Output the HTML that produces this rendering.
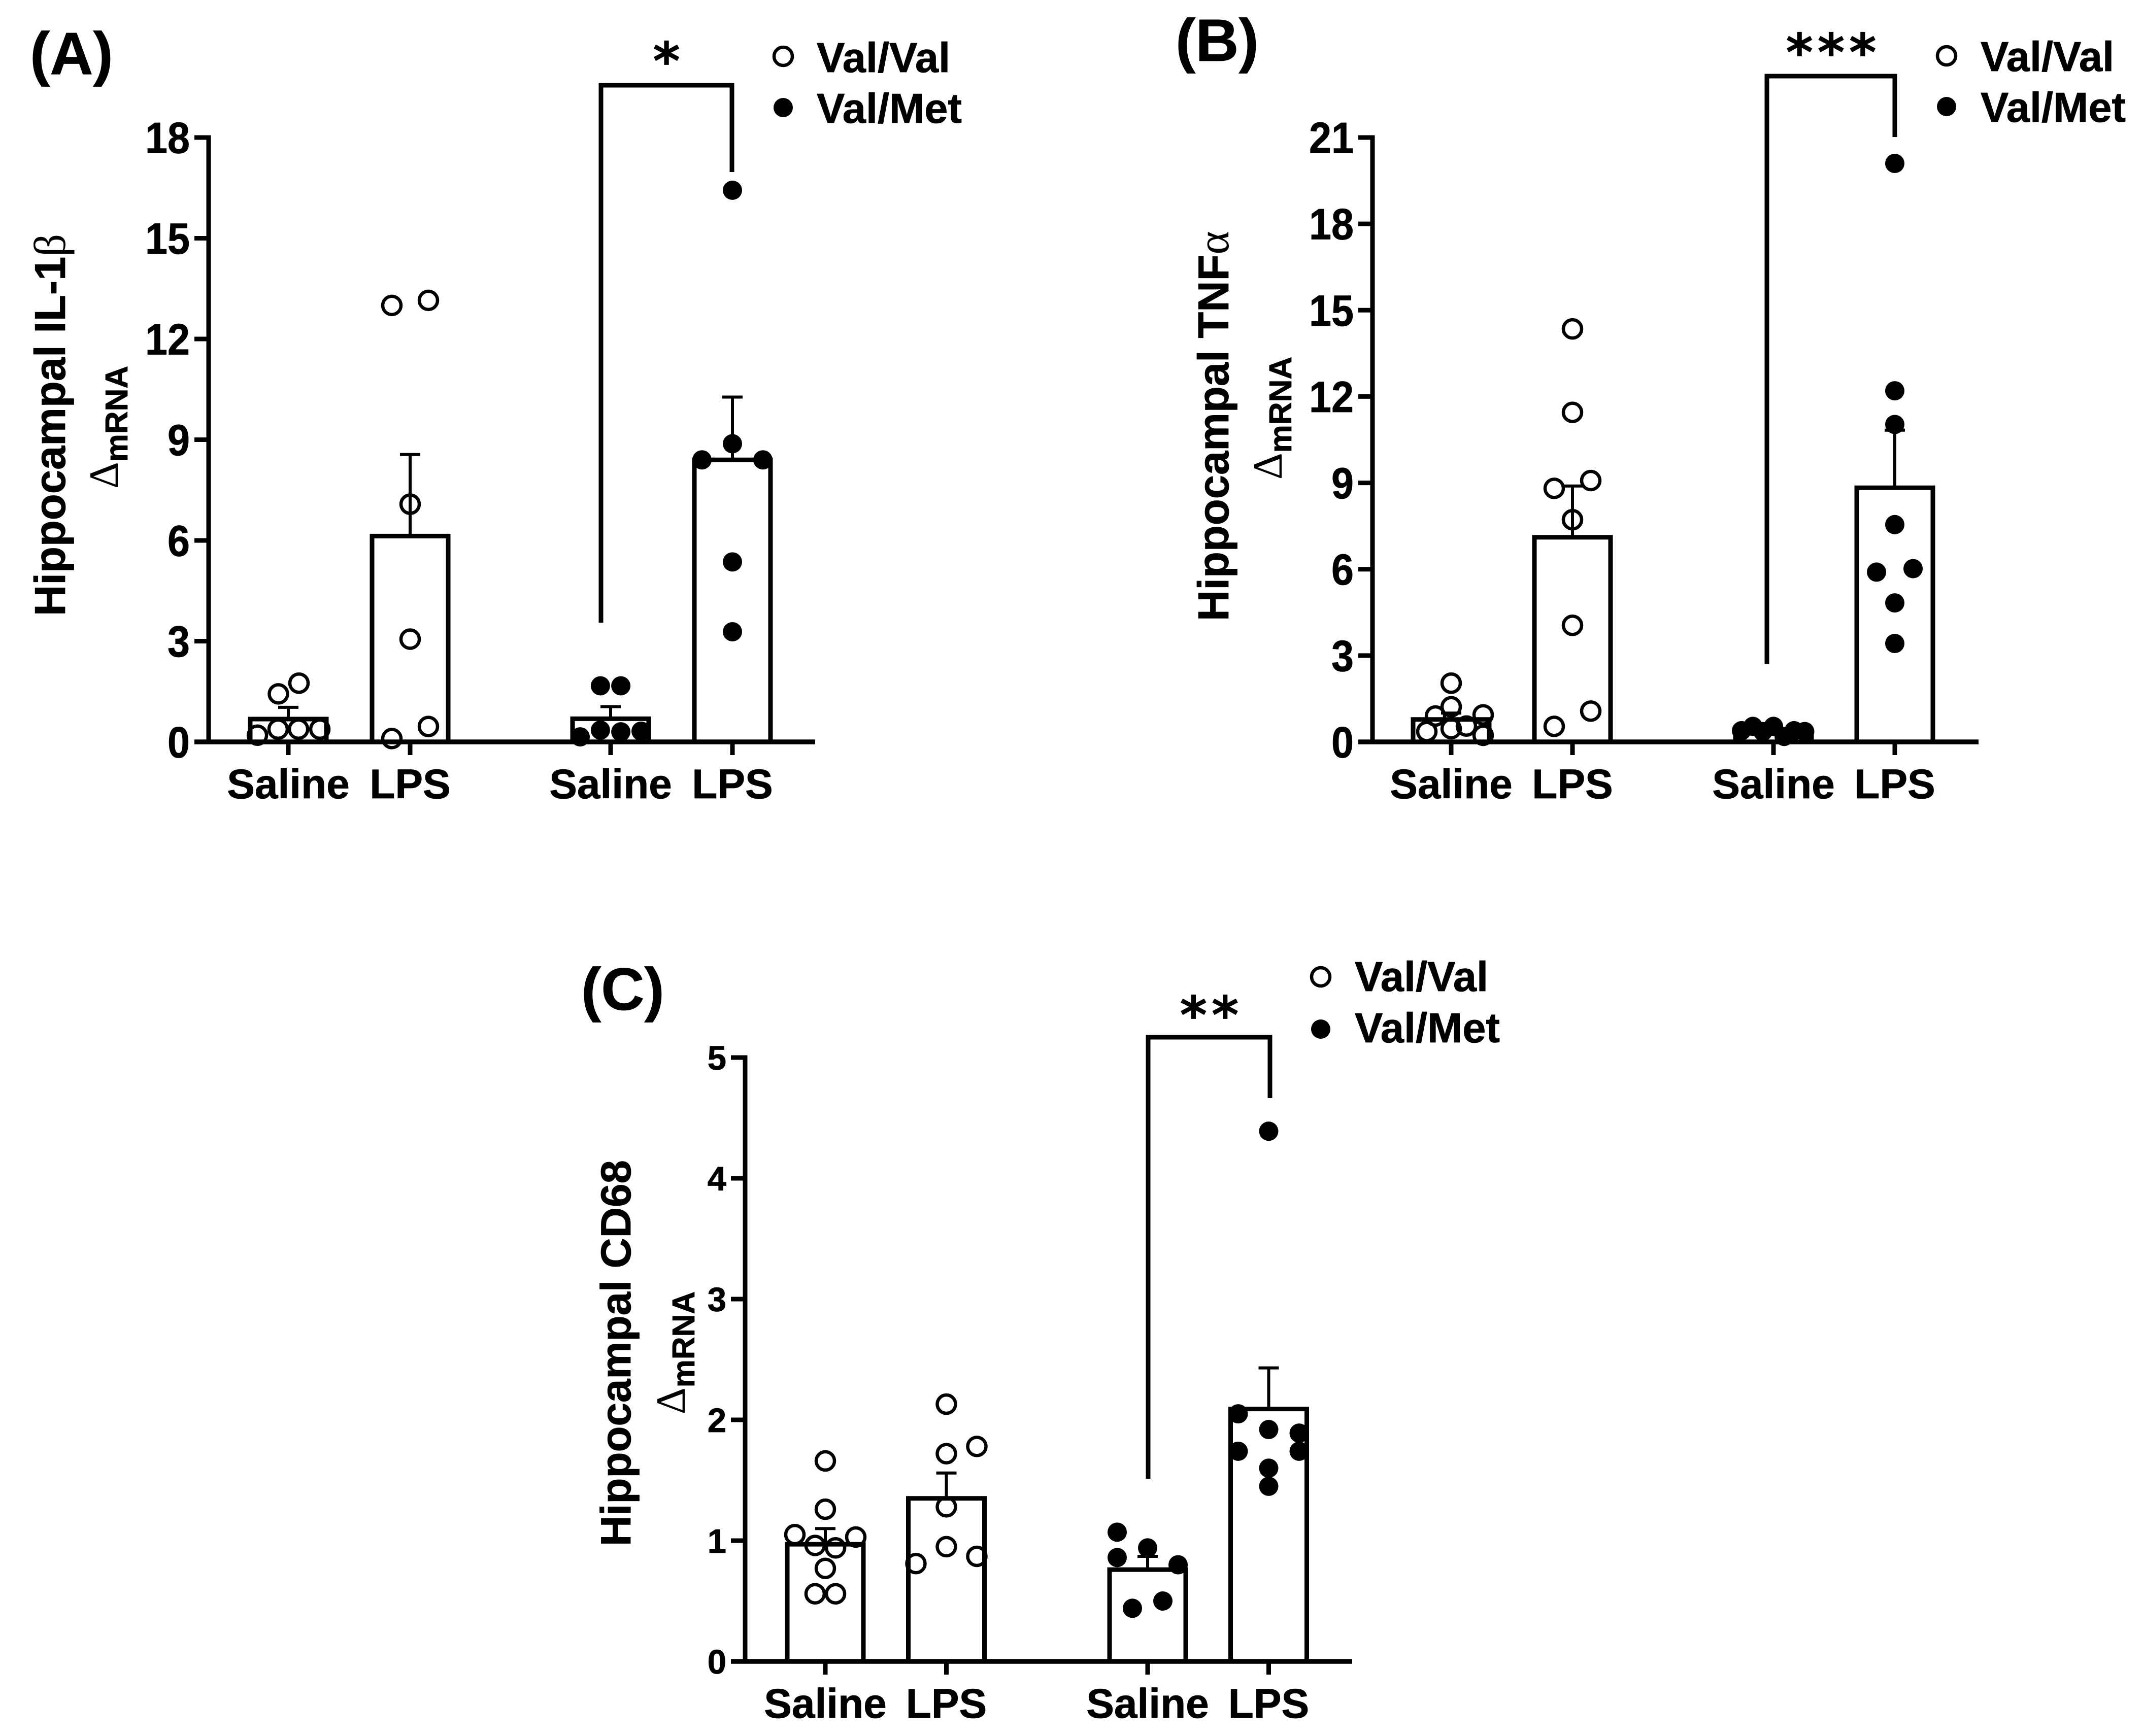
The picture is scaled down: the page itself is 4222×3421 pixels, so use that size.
<!DOCTYPE html>
<html>
<head>
<meta charset="utf-8">
<title>Hippocampal mRNA panels</title>
<style>
html,body{margin:0;padding:0;background:#fff;}
svg{display:block;}
text{font-family:"Liberation Sans",sans-serif;font-weight:700;fill:#000;stroke:#000;stroke-width:0.8;}
.serif{font-family:"Liberation Serif",serif;font-weight:400;stroke:none;}
.star{font-family:"DejaVu Sans",sans-serif;font-weight:700;}
</style>
</head>
<body>
<svg id="figure" xmlns="http://www.w3.org/2000/svg" width="4222" height="3421" viewBox="0 0 4222 3421">
<rect x="0" y="0" width="4222" height="3421" fill="#fff"/>

<g id="panel-a"></g>
<g id="panel-b"></g>
<g id="panel-c"></g>

<text x="59" y="146" font-size="118">(A)</text>
<text x="2316" y="120" font-size="118">(B)</text>
<text x="1145" y="1990" font-size="118">(C)</text>

<text transform="translate(128,1214) rotate(-90)" font-size="85">Hippocampal IL-1<tspan class="serif" font-size="88">β</tspan></text>
<text transform="translate(232,963) rotate(-90)" font-size="82"><tspan class="serif">Δ</tspan><tspan dy="19" font-size="62">mRNA</tspan></text>

<text transform="translate(2420,1224) rotate(-90)" font-size="85">Hippocampal TNF<tspan class="serif" font-size="88">α</tspan></text>
<text transform="translate(2525,945) rotate(-90)" font-size="82"><tspan class="serif">Δ</tspan><tspan dy="19" font-size="62">mRNA</tspan></text>

<text transform="translate(1242,3047) rotate(-90)" font-size="83.5">Hippocampal CD68</text>
<text transform="translate(1349,2787) rotate(-90)" font-size="82"><tspan class="serif">Δ</tspan><tspan dy="19" font-size="62">mRNA</tspan></text>

<path d="M1184 1227V168H1442V339" fill="none" stroke="#000" stroke-width="9"/>
<path d="M3481 1309V150H3733V270" fill="none" stroke="#000" stroke-width="9"/>
<path d="M2262 2914V2044H2502V2164" fill="none" stroke="#000" stroke-width="9"/>

<text class="star" x="1313" y="156" font-size="102" text-anchor="middle">*</text>
<text class="star" x="3612" y="139" font-size="102" letter-spacing="9" text-anchor="middle">***</text>
<text class="star" x="2387" y="2036" font-size="102" letter-spacing="9" text-anchor="middle">**</text>

<g>
<circle cx="1543" cy="111" r="18" fill="none" stroke="#000" stroke-width="6.5"/>
<circle cx="1543" cy="212" r="19" fill="#000"/>
<text x="1609" y="142" font-size="83">Val/Val</text>
<text x="1609" y="242" font-size="83">Val/Met</text>
</g>
<g>
<circle cx="3835" cy="110" r="18" fill="none" stroke="#000" stroke-width="6.5"/>
<circle cx="3835" cy="210" r="19" fill="#000"/>
<text x="3902" y="140" font-size="83">Val/Val</text>
<text x="3902" y="240" font-size="83">Val/Met</text>
</g>
<g>
<circle cx="2602" cy="1925" r="18" fill="none" stroke="#000" stroke-width="6.5"/>
<circle cx="2602" cy="2028" r="19" fill="#000"/>
<text x="2669" y="1953" font-size="83">Val/Val</text>
<text x="2669" y="2054" font-size="83">Val/Met</text>
</g>
</svg>

<script>
// Shared categories
const categories = ['Saline', 'LPS', 'Saline', 'LPS'];
const genotypes = ['open', 'open', 'filled', 'filled'];

// Panel A: Hippocampal IL-1beta
const panelATicks = [0, 3, 6, 9, 12, 15, 18];
const panelAMeans = [0.68, 6.13, 0.69, 8.4];
const panelASems = [0.35, 2.43, 0.36, 1.87];
const panelAPoints = [
  [1.75, 1.43, 0.2, 0.38, 0.38, 0.38],
  [13.0, 13.15, 7.08, 3.06, 0.1, 0.46],
  [1.67, 1.67, 0.15, 0.35, 0.3, 0.32],
  [16.43, 8.88, 8.4, 8.4, 5.36, 3.28]
];
const panelAJitter = [
  [0.7, -0.65, -2.03, -0.67, 0.67, 2.07],
  [-1.2, 1.2, 0, 0, -1.2, 1.2],
  [-0.67, 0.67, -2, -0.67, 0.67, 2],
  [0, 0, -2, 2, 0, 0]
];

// Panel B: Hippocampal TNF-alpha
const panelBTicks = [0, 3, 6, 9, 12, 15, 18, 21];
const panelBMeans = [0.78, 7.11, 0.35, 8.83];
const panelBSems = [0.22, 1.78, 0.08, 2.0];
const panelBPoints = [
  [2.04, 1.22, 0.9, 0.94, 0.36, 0.46, 0.55, 0.23],
  [14.35, 11.45, 9.08, 8.81, 7.72, 4.05, 1.07, 0.54],
  [0.39, 0.54, 0.54, 0.39, 0.36, 0.36, 0.19],
  [20.1, 12.2, 11.03, 7.55, 5.9, 6.02, 4.83, 3.42]
];
const panelBJitter = [
  [0, 0, -1.03, 2.1, -1.6, 0, 1, 2.1],
  [0, 0, 1.2, -1.2, 0, 0, 1.2, -1.2],
  [-2.1, -1.35, 0, 1.35, 2.05, -0.7, 0.7],
  [0, 0, 0, 0, -1.2, 1.2, 0, 0]
];

// Panel C: Hippocampal CD68
const panelCTicks = [0, 1, 2, 3, 4, 5];
const panelCMeans = [0.97, 1.35, 0.76, 2.09];
const panelCSems = [0.13, 0.21, 0.11, 0.34];
const panelCPoints = [
  [1.66, 1.26, 1.05, 1.03, 0.96, 0.94, 0.77, 0.56, 0.56],
  [2.13, 1.72, 1.78, 1.28, 0.95, 0.81, 0.87],
  [1.07, 0.94, 0.86, 0.8, 0.5, 0.44],
  [4.39, 2.05, 1.92, 1.89, 1.74, 1.74, 1.6, 1.45]
];
const panelCJitter = [
  [0, 0, -2, 2, -0.67, 0.67, 0, -0.67, 0.67],
  [0, 0, 2, 0, 0, -2, 2],
  [-2, 0, -2, 2, 1, -1],
  [0, -2, 0, 2, -2, 2, 0, 0]
];

const SVG_NS = 'http://www.w3.org/2000/svg';
const JITTER_UNIT = 30;
const BAR_HALF_WIDTH = 75;

function make(parent, tag, attrs) {
  const el = document.createElementNS(SVG_NS, tag);
  for (const key in attrs) el.setAttribute(key, attrs[key]);
  parent.appendChild(el);
  return el;
}

function drawPanel(id, layout, ticks, means, sems, points, jitter) {
  const root = document.getElementById('panel-' + id);
  const maxTick = ticks[ticks.length - 1];
  const yScale = function (v) { return layout.y0 + (layout.yMax - layout.y0) * v / maxTick; };
  const xScale = function (i) { return layout.first + i * layout.step + (i >= 2 ? layout.gap : 0); };

  categories.forEach(function (cat, i) {
    const cx = xScale(i);

    const bar = make(root, 'rect', {
      x: cx - BAR_HALF_WIDTH, y: yScale(means[i]),
      width: BAR_HALF_WIDTH * 2, height: layout.y0 - yScale(means[i]),
      fill: 'none', stroke: '#000', 'stroke-width': 9
    });
    
    

    const errorTop = yScale(means[i] + sems[i]);
    const stem = make(root, 'line', {
      x1: cx, x2: cx, y1: yScale(means[i]), y2: errorTop,
      stroke: '#000', 'stroke-width': 6
    });
    
    

    const cap = make(root, 'line', {
      x1: cx - 20, x2: cx + 20, y1: errorTop, y2: errorTop,
      stroke: '#000', 'stroke-width': 6
    });
    
    

    points[i].forEach(function (v, k) {
      const filled = genotypes[i] === 'filled';
      const dot = make(root, 'circle', {
        cx: cx + jitter[i][k] * JITTER_UNIT, cy: yScale(v),
        r: filled ? 19 : 18,
        fill: filled ? '#000' : 'none',
        stroke: filled ? 'none' : '#000',
        'stroke-width': filled ? 0 : 6.5
      });
      
      
    });

    const tick = make(root, 'line', {
      x1: cx, x2: cx, y1: layout.y0, y2: layout.y0 + 26,
      stroke: '#000', 'stroke-width': 9
    });
    
    

    const label = make(root, 'text', {
      x: cx, y: layout.labelY,
      'font-size': 82, 'text-anchor': 'middle'
    });
    label.textContent = cat;
    
    
  });

  const yAxis = make(root, 'line', {
    x1: layout.left, x2: layout.left, y1: yScale(maxTick) - 4.5, y2: layout.y0,
    stroke: '#000', 'stroke-width': 9
  });
  
  

  const xAxis = make(root, 'line', {
    x1: layout.left - 28, x2: layout.right, y1: layout.y0, y2: layout.y0,
    stroke: '#000', 'stroke-width': 9.5
  });
  
  

  ticks.forEach(function (t) {
    const y = yScale(t);
    const tick = make(root, 'line', {
      x1: layout.left - 28, x2: layout.left, y1: y, y2: y,
      stroke: '#000', 'stroke-width': 9
    });
    
    

    const label = make(root, 'text', {
      transform: 'translate(' + (layout.left - 37) + ',' + (y + layout.tickFont * 0.355) + ') scale(' + layout.tickStretch + ',1)',
      'font-size': layout.tickFont, 'text-anchor': 'end'
    });
    label.textContent = String(t);
    
    
  });
}

drawPanel('a', { left: 411, right: 1606, y0: 1462, yMax: 271, first: 568, step: 240, gap: 155, labelY: 1573, tickFont: 86, tickStretch: 0.92 },
  panelATicks, panelAMeans, panelASems, panelAPoints, panelAJitter);
drawPanel('b', { left: 2704, right: 3898, y0: 1462, yMax: 271, first: 2859, step: 239, gap: 157, labelY: 1573, tickFont: 86, tickStretch: 0.92 },
  panelBTicks, panelBMeans, panelBSems, panelBPoints, panelBJitter);
drawPanel('c', { left: 1468, right: 2664, y0: 3274, yMax: 2084, first: 1626, step: 238.5, gap: 158, labelY: 3385, tickFont: 67, tickStretch: 1 },
  panelCTicks, panelCMeans, panelCSems, panelCPoints, panelCJitter);
</script>
</body>
</html>
